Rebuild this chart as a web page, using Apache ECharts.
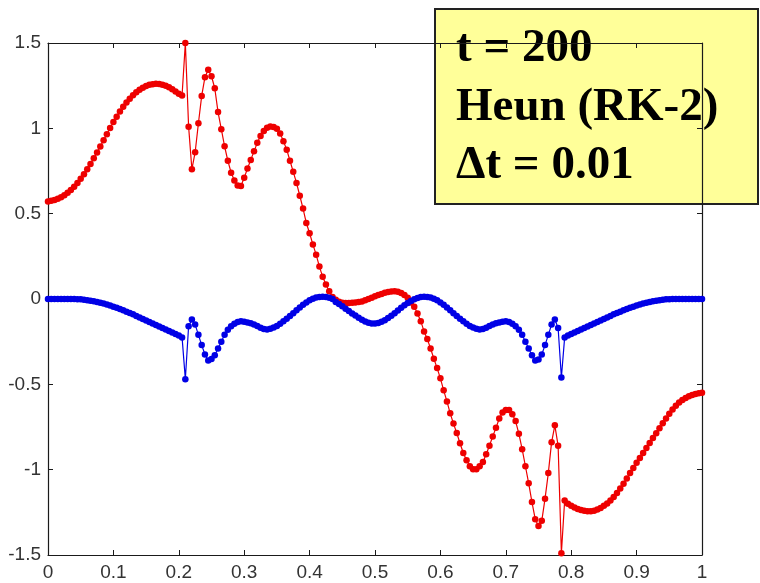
<!DOCTYPE html>
<html>
<head>
<meta charset="utf-8">
<script src="https://cdn.jsdelivr.net/npm/echarts@6/dist/echarts.min.js"></script>
<style>
  html, body { margin: 0; padding: 0; background: #ffffff; }
  #chart { width: 760px; height: 583px; }
</style>
</head>
<body>
<div id="chart"></div>
<script>
// Solution sampled on a uniform grid over [0, 1]
const xStart = 0;
const xStep = 0.005;

// Real part (red)
const redValues = [
  0.572, 0.575, 0.580, 0.587, 0.596, 0.608, 0.622, 0.639, 0.658, 0.680,
  0.704, 0.731, 0.760, 0.791, 0.824, 0.858, 0.893, 0.930, 0.966, 1.002,
  1.037, 1.068, 1.098, 1.126, 1.151, 1.174, 1.194, 1.211, 1.226, 1.238,
  1.248, 1.255, 1.259, 1.261, 1.260, 1.256, 1.249, 1.240, 1.229, 1.216,
  1.203, 1.192, 1.500, 1.010, 0.760, 0.860, 1.030, 1.190, 1.300, 1.343,
  1.305, 1.235, 1.095, 0.995, 0.895, 0.810, 0.740, 0.695, 0.665, 0.662,
  0.710, 0.765, 0.815, 0.865, 0.915, 0.955, 0.985, 1.003, 1.011, 1.008,
  0.998, 0.970, 0.925, 0.875, 0.810, 0.745, 0.680, 0.605, 0.530, 0.445,
  0.385, 0.320, 0.260, 0.190, 0.130, 0.085, 0.045, 0.012, -0.005, -0.016,
  -0.022, -0.024, -0.023, -0.022, -0.020, -0.018, -0.015, -0.008, 0.000, 0.008,
  0.016, 0.023, 0.030, 0.036, 0.041, 0.044, 0.045, 0.042, 0.035, 0.024,
  0.008, -0.020, -0.045, -0.085, -0.130, -0.190, -0.235, -0.290, -0.350, -0.405,
  -0.465, -0.535, -0.600, -0.670, -0.730, -0.785, -0.845, -0.902, -0.945, -0.980,
  -0.997, -0.998, -0.980, -0.955, -0.910, -0.860, -0.805, -0.755, -0.700, -0.665,
  -0.650, -0.650, -0.675, -0.715, -0.790, -0.880, -0.980, -1.080, -1.190, -1.290,
  -1.330, -1.300, -1.170, -1.020, -0.840, -0.740, -0.860, -1.490, -1.180, -1.200,
  -1.212, -1.222, -1.230, -1.237, -1.241, -1.243, -1.244, -1.240, -1.233, -1.224,
  -1.212, -1.198, -1.180, -1.160, -1.137, -1.110, -1.082, -1.052, -1.020, -0.990,
  -0.960, -0.931, -0.902, -0.873, -0.844, -0.815, -0.786, -0.757, -0.728, -0.700,
  -0.672, -0.647, -0.625, -0.606, -0.592, -0.580, -0.570, -0.562, -0.556, -0.552,
  -0.550
];

// Imaginary part (blue)
const blueValues = [
  0, 0, 0, 0, 0, 0, 0, 0, 0, -0.001,
  -0.002, -0.004, -0.007, -0.010, -0.013, -0.017, -0.022, -0.027, -0.032, -0.038,
  -0.045, -0.052, -0.059, -0.066, -0.074, -0.082, -0.090, -0.099, -0.108, -0.117,
  -0.126, -0.135, -0.144, -0.152, -0.161, -0.170, -0.179, -0.188, -0.197, -0.205,
  -0.214, -0.225, -0.470, -0.160, -0.120, -0.150, -0.210, -0.270, -0.325, -0.360,
  -0.352, -0.330, -0.290, -0.250, -0.210, -0.180, -0.160, -0.145, -0.135, -0.131,
  -0.133, -0.137, -0.142, -0.150, -0.158, -0.168, -0.176, -0.178, -0.174, -0.167,
  -0.158, -0.145, -0.130, -0.115, -0.100, -0.084, -0.066, -0.050, -0.034, -0.020,
  -0.008, 0.002, 0.009, 0.012, 0.013, 0.012, 0.008, 0.000, -0.018, -0.030,
  -0.043, -0.057, -0.071, -0.085, -0.097, -0.110, -0.122, -0.132, -0.139, -0.143,
  -0.143, -0.140, -0.134, -0.124, -0.112, -0.098, -0.083, -0.067, -0.052, -0.037,
  -0.024, -0.012, -0.002, 0.006, 0.011, 0.013, 0.012, 0.009, 0.002, -0.008,
  -0.020, -0.034, -0.050, -0.066, -0.084, -0.100, -0.115, -0.130, -0.145, -0.158,
  -0.167, -0.174, -0.178, -0.176, -0.168, -0.158, -0.150, -0.142, -0.137, -0.133,
  -0.131, -0.135, -0.145, -0.160, -0.180, -0.210, -0.250, -0.290, -0.330, -0.360,
  -0.355, -0.325, -0.270, -0.210, -0.150, -0.120, -0.170, -0.460, -0.225, -0.214,
  -0.205, -0.197, -0.188, -0.179, -0.170, -0.161, -0.152, -0.144, -0.135, -0.126,
  -0.117, -0.108, -0.099, -0.090, -0.082, -0.074, -0.066, -0.059, -0.052, -0.045,
  -0.038, -0.032, -0.027, -0.022, -0.017, -0.013, -0.010, -0.007, -0.004, -0.002,
  -0.001, 0, 0, 0, 0, 0, 0, 0, 0, 0,
  0
];

// Annotation lines
const noteLines = ['t = 200', 'Heun (RK-2)', '\u0394t = 0.01'];

const xRange = [0, 1];
const yRange = [-1.5, 1.5];
const xTickStep = 0.1;
const yTickStep = 0.5;

function toPairs(values) {
  return values.map((v, i) => [+(xStart + i * xStep).toFixed(4), v]);
}

const axisColor = '#1a1a1a';
const labelStyle = { color: '#333', fontFamily: 'Liberation Sans, Arial, sans-serif', fontSize: 19 };

const chart = echarts.init(document.getElementById('chart'), null, { renderer: 'canvas' });

const noteFont = 'bold 47px "Liberation Serif", "Times New Roman", serif';

function makeAxis(position, showLabels, kind) {
  const range = kind === 'x' ? xRange : yRange;
  return {
    type: 'value', min: range[0], max: range[1],
    interval: kind === 'x' ? xTickStep : yTickStep,
    position: position,
    axisLine: { show: true, onZero: false, lineStyle: { color: axisColor, width: 1.2 } },
    axisTick: { show: true, inside: true, length: 5, lineStyle: { color: axisColor } },
    axisLabel: showLabels ? Object.assign({ margin: kind === 'x' ? 8 : 7 }, labelStyle) : { show: false },
    splitLine: { show: false }
  };
}

function curve(name, values, color, z) {
  return {
    name: name,
    type: 'line',
    xAxisIndex: 0, yAxisIndex: 0,
    data: toPairs(values),
    showAllSymbol: true,
    symbol: 'circle',
    symbolSize: 6.5,
    itemStyle: { color: color },
    lineStyle: { color: color, width: 1.2 },
    z: z
  };
}

chart.setOption({
  animation: false,
  backgroundColor: '#ffffff',
  grid: { left: 48, right: 58, top: 43, bottom: 28, containLabel: false },
  xAxis: [makeAxis('bottom', true, 'x'), makeAxis('top', false, 'x')],
  yAxis: [makeAxis('left', true, 'y'), makeAxis('right', false, 'y')],
  series: [
    curve('Re', redValues, '#ee0000', 2),
    curve('Im', blueValues, '#0000e6', 3)
  ],
  graphic: [
    {
      type: 'group',
      left: 434, top: 8,
      z: 100,
      children: [
        {
          type: 'rect',
          shape: { x: 0, y: 0, width: 323, height: 195 },
          style: { fill: '#ffff99', stroke: '#222222', lineWidth: 2 }
        },
        {
          type: 'text',
          x: 21, y: 40,
          style: { text: noteLines[0], font: noteFont, fill: '#000', verticalAlign: 'middle' }
        },
        {
          type: 'text',
          x: 21, y: 99,
          style: { text: noteLines[1], font: noteFont, fill: '#000', verticalAlign: 'middle' }
        },
        {
          type: 'text',
          x: 21, y: 157,
          style: { text: noteLines[2], font: noteFont, fill: '#000', verticalAlign: 'middle' }
        }
      ]
    }
  ]
});
</script>
</body>
</html>
